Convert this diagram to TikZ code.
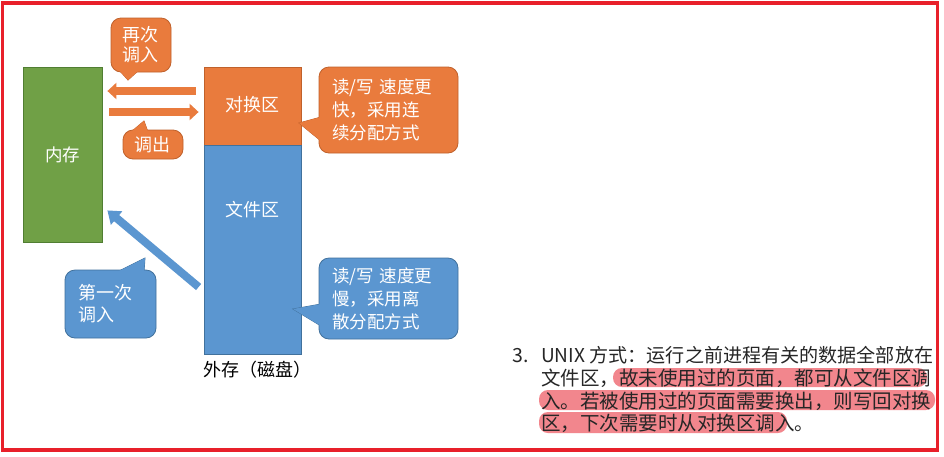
\documentclass[tikz,border=0pt]{standalone}
\usepackage{fontspec}
\usepackage{graphicx}
\setmainfont{Noto Sans CJK SC}
\newfontfamily\cjk{Noto Sans CJK SC}
\usetikzlibrary{arrows.meta,calc}
\definecolor{myorange}{HTML}{E97B3D}
\definecolor{myorangeD}{HTML}{C0612B}
\definecolor{myblue}{HTML}{5B96D0}
\definecolor{myblueD}{HTML}{41719C}
\definecolor{mygreen}{HTML}{70A046}
\definecolor{mygreenD}{HTML}{507E32}
\definecolor{frameRed}{HTML}{E8202A}
\definecolor{hlPink}{HTML}{F2868D}
\definecolor{paraText}{HTML}{262626}
\newcommand\ptrback[4]{\filldraw[fill=#1,draw=#2,line width=0.8pt] #3 -- #4 -- cycle;}
\newcommand\ptrfront[3]{\fill[#1] #2 -- #3 -- cycle;}
\begin{document}
\begin{tikzpicture}[x=1pt,y=-1pt,
  blockbox/.style={draw, line width=0.8pt, inner sep=0pt, text=white},
  labeltxt/.style={text=white, inner sep=0pt, font=\cjk\fontsize{18}{22}\selectfont},
  notebox/.style={draw, line width=0.8pt, rounded corners=10pt, inner sep=0pt, text=white, align=left},
  fatorange/.style={draw=myorange, line width=8pt, -{Triangle[width=16pt,length=9pt]}},
  fatblue/.style={draw=myblue, line width=8pt, -{Triangle[width=17pt,length=12pt]}},
  paratxt/.style={inner sep=0pt, text=paraText, font=\cjk\fontsize{19.5}{22}\selectfont}
]
\useasboundingbox (0,0) rectangle (944,456);
\fill[white] (0,0) rectangle (944,456);

% main blocks
\node[blockbox, fill=mygreen, draw=mygreenD, minimum width=79pt, minimum height=175pt] (mem) at (62.5,154.5) {};
\node[labeltxt, font=\cjk\fontsize{17.5}{22}\selectfont] (memlbl) at (62.5,155) {内存};
\node[blockbox, fill=myorange, draw=myorangeD, minimum width=97pt, minimum height=78pt] (swap) at (252.5,106) {};
\node[labeltxt] (swaplbl) at (252.5,105) {对换区};
\node[blockbox, fill=myblue, draw=myblueD, minimum width=97pt, minimum height=209pt] (file) at (252.5,249.5) {};
\node[labeltxt] (filelbl) at (252.5,210) {文件区};
\node[inner sep=0pt, text=black, font=\cjk\fontsize{18}{22}\selectfont] (disk) at (257.5,370) {外存（磁盘）};

% fat arrows
\draw[fatorange] ($(swap.west)+(-8,-15)$) -- ($(mem.east |- swap.west)+(5,-15)$);
\draw[fatorange] ($(mem.east |- swap.west)+(7,6)$) -- ($(swap.west)+(-5,6)$);
\draw[fatblue] ($(file.west)+(-5,37.5)$) -- ($(mem.south east)+(5,-32)$);

% callout: again
\ptrback{myorange}{myorangeD}{(119,70) -- (128,80)}{(139,70)}
\node[notebox, fill=myorange, draw=myorangeD, minimum width=60pt, minimum height=54pt, text width=38pt,
  font=\cjk\fontsize{18}{20}\selectfont] (again) at (141,45) {再次\\调入};
\ptrfront{myorange}{(119,70) -- (128,80)}{(139,70)}

% callout: out
\ptrback{myorange}{myorangeD}{(131,132) -- (144,121)}{(148,132)}
\node[notebox, fill=myorange, draw=myorangeD, minimum width=60pt, minimum height=29pt, text width=38pt,
  font=\cjk\fontsize{18}{20}\selectfont] (out) at (153,144.5) {调出};
\ptrfront{myorange}{(131,132) -- (144,121)}{(148,132)}

% callout: swap note
\ptrback{myorange}{myorangeD}{(321,117) -- (299,123)}{(321,141)}
\node[notebox, fill=myorange, draw=myorangeD, minimum width=139pt, minimum height=86pt, text width=113pt,
  font=\cjk\fontsize{17.5}{23}\selectfont] (swapnote) at (388.5,110) {读/写 速度更\\快，采用连\\续分配方式};
\ptrfront{myorange}{(321,117) -- (299,123)}{(321,141)}

% callout: file note
\ptrback{myblue}{myblueD}{(321,304) -- (293,309)}{(321,326)}
\node[notebox, fill=myblue, draw=myblueD, minimum width=139pt, minimum height=81pt, text width=113pt,
  font=\cjk\fontsize{17.5}{23}\selectfont] (filenote) at (388.5,298.5) {读/写 速度更\\慢，采用离\\散分配方式};
\ptrfront{myblue}{(321,304) -- (293,309)}{(321,326)}

% callout: first
\ptrback{myblue}{myblueD}{(117,272) -- (145,258)}{(144,272)}
\node[notebox, fill=myblue, draw=myblueD, minimum width=91pt, minimum height=68pt, text width=65pt,
  font=\cjk\fontsize{18}{22}\selectfont] (first) at (110.5,304) {第一次\\调入};
\ptrfront{myblue}{(117,272) -- (145,258)}{(144,272)}

% highlights
\fill[hlPink, rounded corners=9pt] (613,368) rectangle (927,387);
\fill[hlPink, rounded corners=9pt] (539,390) rectangle (935,410);
\fill[hlPink, rounded corners=9pt] (539,412) rectangle (787,433);

% paragraph
\node[paratxt, anchor=base west] (num) at (512,362.5) {3.};
\node[paratxt, anchor=base west] (l1) at (541,362.5) {\resizebox{392pt}{!}{UNIX 方式：运行之前进程有关的数据全部放在}};
\node[paratxt, anchor=base west] (l2) at (541,385.5) {文件区，故未使用过的页面，都可从文件区调};
\node[paratxt, anchor=base west] (l3) at (541,408) {入。若被使用过的页面需要换出，则写回对换};
\node[paratxt, anchor=base west] (l4) at (541,430.5) {区，下次需要时从对换区调入。};

% frame
\draw[frameRed, line width=3.5pt] (2.5,3) rectangle (937.5,450);
\end{tikzpicture}
\end{document}
